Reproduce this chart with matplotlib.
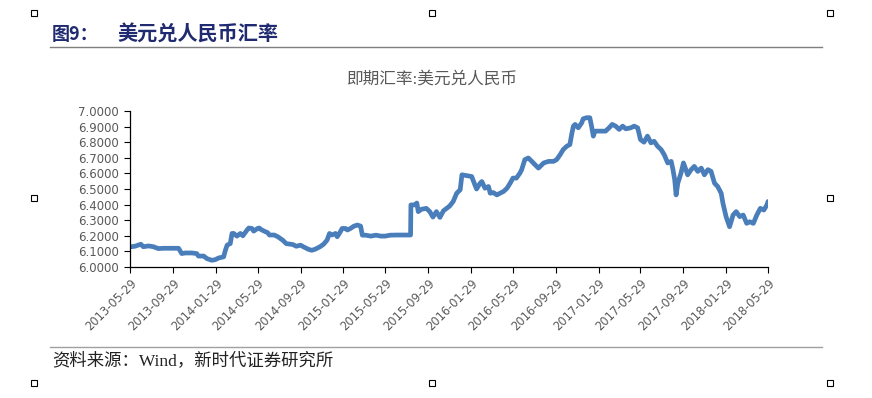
import numpy as np
import pandas as pd
import matplotlib
matplotlib.use("Agg")
import matplotlib.pyplot as plt
import matplotlib.dates as mdates
from matplotlib.patches import Rectangle
from matplotlib.lines import Line2D

plt.rcParams['font.family'] = ['Noto Sans CJK SC', 'DejaVu Sans']

# USD/CNY spot rate
dates = [
    "2013-05-29", "2013-06-12", "2013-06-29", "2013-07-06", "2013-07-21", "2013-08-04",
    "2013-08-18", "2013-09-02", "2013-09-30", "2013-10-15", "2013-10-24", "2013-11-03",
    "2013-11-22", "2013-12-06", "2013-12-11", "2013-12-26", "2014-01-04", "2014-01-18",
    "2014-01-28", "2014-02-07", "2014-02-21", "2014-02-26", "2014-03-03", "2014-03-12",
    "2014-03-17", "2014-03-22", "2014-03-31", "2014-04-10", "2014-04-17", "2014-04-29",
    "2014-05-04", "2014-05-13", "2014-05-18", "2014-05-29", "2014-06-03", "2014-06-08",
    "2014-06-17", "2014-06-27", "2014-07-02", "2014-07-16", "2014-07-26", "2014-08-09",
    "2014-08-19", "2014-09-07", "2014-09-17", "2014-09-29", "2014-10-07", "2014-10-21",
    "2014-10-31", "2014-11-10", "2014-11-24", "2014-12-04", "2014-12-14", "2014-12-21",
    "2014-12-28", "2015-01-07", "2015-01-12", "2015-01-21", "2015-01-26", "2015-02-05",
    "2015-02-10", "2015-02-19", "2015-03-01", "2015-03-11", "2015-03-20", "2015-03-25",
    "2015-04-04", "2015-04-18", "2015-05-03", "2015-05-17", "2015-05-29", "2015-06-13",
    "2015-07-02", "2015-07-21", "2015-08-10", "2015-08-11", "2015-08-21", "2015-08-28",
    "2015-09-01", "2015-09-10", "2015-09-24", "2015-10-04", "2015-10-13", "2015-10-23",
    "2015-11-02", "2015-11-12", "2015-11-30", "2015-12-10", "2015-12-20", "2015-12-30",
    "2016-01-04", "2016-01-19", "2016-02-01", "2016-02-10", "2016-02-15", "2016-02-25",
    "2016-03-01", "2016-03-10", "2016-03-20", "2016-03-25", "2016-04-03", "2016-04-13",
    "2016-04-22", "2016-05-02", "2016-05-12", "2016-05-21", "2016-05-29", "2016-06-08",
    "2016-06-18", "2016-06-23", "2016-07-02", "2016-07-12", "2016-07-22", "2016-07-31",
    "2016-08-10", "2016-08-15", "2016-08-25", "2016-09-08", "2016-09-22", "2016-10-01",
    "2016-10-11", "2016-10-20", "2016-10-30", "2016-11-08", "2016-11-13", "2016-11-18",
    "2016-11-23", "2016-12-02", "2016-12-12", "2016-12-16", "2016-12-26", "2017-01-04",
    "2017-01-09", "2017-01-14", "2017-01-19", "2017-01-29", "2017-02-08", "2017-02-18",
    "2017-02-28", "2017-03-09", "2017-03-19", "2017-03-29", "2017-04-08", "2017-04-17",
    "2017-05-01", "2017-05-11", "2017-05-21", "2017-05-29", "2017-06-08", "2017-06-18",
    "2017-06-28", "2017-07-07", "2017-07-17", "2017-07-27", "2017-08-05", "2017-08-15",
    "2017-08-25", "2017-08-30", "2017-09-04", "2017-09-08", "2017-09-13", "2017-09-22",
    "2017-09-29", "2017-10-06", "2017-10-11", "2017-10-21", "2017-10-30", "2017-11-09",
    "2017-11-19", "2017-11-28", "2017-12-08", "2017-12-17", "2017-12-27", "2018-01-05",
    "2018-01-15", "2018-01-20", "2018-01-29", "2018-02-08", "2018-02-18", "2018-02-27",
    "2018-03-09", "2018-03-19", "2018-03-29", "2018-04-07", "2018-04-17", "2018-04-27",
    "2018-05-07", "2018-05-17", "2018-05-26", "2018-05-29",
]
usdcny = [
    6.129, 6.133, 6.146, 6.130, 6.135, 6.130,
    6.118, 6.120, 6.120, 6.120, 6.086, 6.090,
    6.090, 6.086, 6.070, 6.070, 6.054, 6.043,
    6.047, 6.058, 6.065, 6.107, 6.140, 6.150,
    6.215, 6.215, 6.198, 6.215, 6.200, 6.237,
    6.250, 6.247, 6.230, 6.247, 6.250, 6.240,
    6.230, 6.220, 6.205, 6.205, 6.194, 6.172,
    6.150, 6.144, 6.133, 6.140, 6.130, 6.114,
    6.107, 6.114, 6.130, 6.146, 6.172, 6.215,
    6.205, 6.215, 6.194, 6.226, 6.247, 6.247,
    6.237, 6.247, 6.262, 6.269, 6.262, 6.204,
    6.204, 6.198, 6.204, 6.198, 6.198, 6.204,
    6.205, 6.205, 6.205, 6.398, 6.398, 6.410,
    6.355, 6.370, 6.376, 6.355, 6.320, 6.355,
    6.318, 6.360, 6.391, 6.420, 6.473, 6.495,
    6.591, 6.585, 6.580, 6.527, 6.500, 6.537,
    6.548, 6.505, 6.516, 6.473, 6.477, 6.462,
    6.473, 6.484, 6.505, 6.537, 6.570, 6.570,
    6.602, 6.624, 6.688, 6.699, 6.677, 6.656,
    6.634, 6.645, 6.667, 6.677, 6.677, 6.688,
    6.720, 6.753, 6.774, 6.785, 6.849, 6.903,
    6.914, 6.892, 6.925, 6.950, 6.957, 6.957,
    6.903, 6.839, 6.871, 6.871, 6.871, 6.871,
    6.892, 6.914, 6.903, 6.882, 6.903, 6.886,
    6.892, 6.903, 6.892, 6.817, 6.800, 6.839,
    6.796, 6.806, 6.774, 6.753, 6.720, 6.667,
    6.677, 6.624, 6.559, 6.462, 6.538, 6.602,
    6.667, 6.624, 6.591, 6.624, 6.645, 6.613,
    6.634, 6.591, 6.624, 6.613, 6.537, 6.516,
    6.473, 6.409, 6.323, 6.258, 6.333, 6.355,
    6.323, 6.333, 6.280, 6.290, 6.280, 6.333,
    6.376, 6.365, 6.398, 6.420,
]
tick_dates = ["2013-05-29", "2013-09-29", "2014-01-29", "2014-05-29", "2014-09-29",
              "2015-01-29", "2015-05-29", "2015-09-29", "2016-01-29", "2016-05-29",
              "2016-09-29", "2017-01-29", "2017-05-29", "2017-09-29", "2018-01-29",
              "2018-05-29"]
y_ticks = [6.0, 6.1, 6.2, 6.3, 6.4, 6.5, 6.6, 6.7, 6.8, 6.9, 7.0]

fig_label = "图9："
fig_title = "美元兑人民币汇率"
chart_title = "即期汇率:美元兑人民币"
source_note = "资料来源：Wind，新时代证券研究所"

W, H = 872, 398
fig = plt.figure(figsize=(W / 100, H / 100), dpi=100)

def fx(px):
    return px / W

def fy(py):
    return 1 - py / H

serif_mix = ['Liberation Serif', 'Noto Sans CJK SC']

# page decorations: corner handles, rules, header and footer
for hx, hy in [(34, 13), (432, 13), (830, 13), (34, 198), (830, 198),
               (34, 383), (432, 383), (830, 383)]:
    fig.patches.append(Rectangle((fx(hx - 3), fy(hy + 3)), 6 / W, 6 / H,
                                 transform=fig.transFigure, fill=False,
                                 edgecolor='black', linewidth=0.8))
fig.lines.append(Line2D([fx(50), fx(822)], [fy(47), fy(47)],
                        transform=fig.transFigure, color='#7f7f7f', linewidth=1.0))
fig.lines.append(Line2D([fx(50), fx(822)], [fy(347), fy(347)],
                        transform=fig.transFigure, color='#a0a0a0', linewidth=1.0))
fig.text(fx(52), fy(34), fig_label, fontsize=13, fontweight='bold',
         color='#1f2a70', va='center', ha='left')
fig.text(fx(117), fy(34), fig_title, fontsize=14.5, fontweight='bold',
         color='#1f2a70', va='center', ha='left')
fig.text(fx(432), fy(80), chart_title, fontsize=12, color='#595959',
         va='center', ha='center', family=serif_mix)
fig.text(fx(52), fy(361), source_note, fontsize=12.5, color='#222222',
         va='center', ha='left', family=serif_mix)

ax = fig.add_axes([fx(130), fy(267), 638 / W, 156 / H])
x = pd.to_datetime(dates)
ax.plot(x, usdcny, color='#4a7ebb', linewidth=3.4, solid_capstyle='round',
        solid_joinstyle='round')

ticks = pd.to_datetime(tick_dates)
ax.set_xlim(ticks[0], ticks[-1])
ax.set_ylim(6.0, 7.0)
ax.set_xticks(ticks)
ax.set_xticklabels(tick_dates, rotation=45, ha='right', rotation_mode='anchor',
                   fontsize=8.3, color='#595959', family=['DejaVu Sans'])
ax.set_yticks(y_ticks)
ax.set_yticklabels([f"{v:.4f}" for v in y_ticks], fontsize=8.5, color='#595959',
                   family=['DejaVu Sans'])
ax.tick_params(axis='both', direction='out', length=4, width=0.8, color='black')
ax.tick_params(axis='x', pad=3)
ax.tick_params(axis='y', pad=4)
for side in ['top', 'right']:
    ax.spines[side].set_visible(False)
for side in ['left', 'bottom']:
    ax.spines[side].set_color('black')
    ax.spines[side].set_linewidth(0.9)
ax.patch.set_alpha(0)

fig.savefig("out.png", dpi=100)
